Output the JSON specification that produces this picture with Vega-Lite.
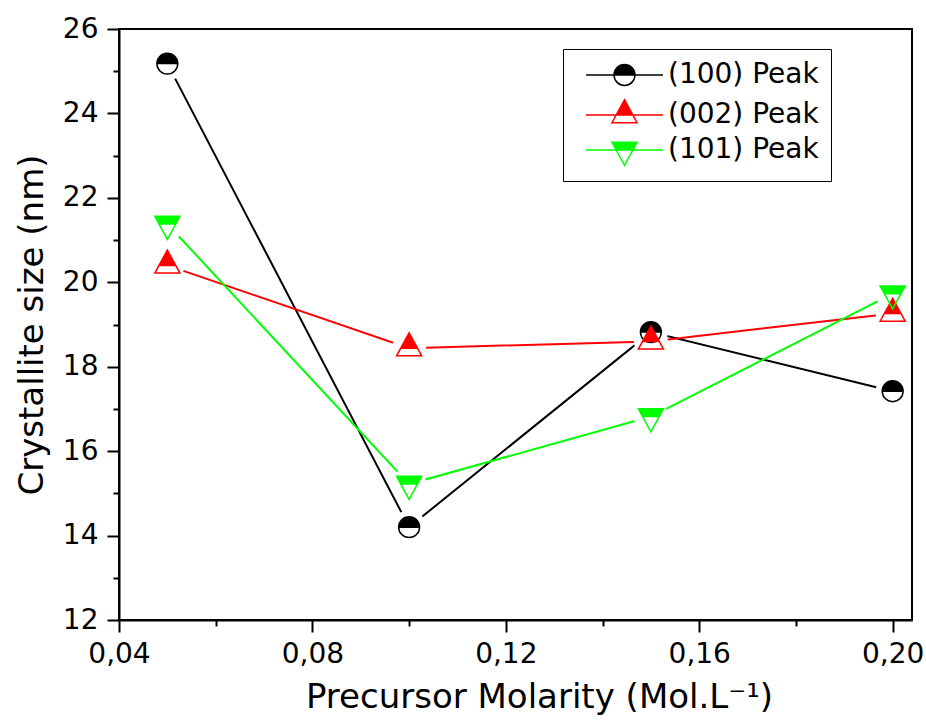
{
  "$schema": "https://vega.github.io/schema/vega-lite/v6.json",
  "width": 793,
  "height": 591,
  "autosize": {"type": "none"},
  "padding": {"left": 119, "top": 29, "right": 14, "bottom": 103},
  "background": "white",
  "config": {
    "view": {"stroke": "black", "strokeWidth": 2},
    "font": "DejaVu Sans"
  },
  "data": {
    "values": [
      {"series": "(100) Peak", "x": 0.05, "y": 25.18},
      {"series": "(100) Peak", "x": 0.10, "y": 14.2},
      {"series": "(100) Peak", "x": 0.15, "y": 18.82},
      {"series": "(100) Peak", "x": 0.20, "y": 17.42},
      {"series": "(002) Peak", "x": 0.05, "y": 20.4},
      {"series": "(002) Peak", "x": 0.10, "y": 18.44},
      {"series": "(002) Peak", "x": 0.15, "y": 18.6},
      {"series": "(002) Peak", "x": 0.20, "y": 19.26},
      {"series": "(101) Peak", "x": 0.05, "y": 21.38},
      {"series": "(101) Peak", "x": 0.10, "y": 15.22},
      {"series": "(101) Peak", "x": 0.15, "y": 16.82},
      {"series": "(101) Peak", "x": 0.20, "y": 19.73}
    ]
  },
  "encoding": {
    "x": {
      "field": "x",
      "type": "quantitative",
      "scale": {"domain": [0.04, 0.204], "nice": false, "zero": false},
      "axis": {
        "title": "Precursor Molarity (Mol.L⁻¹)",
        "titleX": 420,
        "values": [0.04, 0.06, 0.08, 0.10, 0.12, 0.14, 0.16, 0.18, 0.20],
        "labelExpr": "round(datum.value*100) % 4 == 0 ? replace(format(datum.value, '.2f'), '.', ',') : ''",
        "tickSize": {"condition": {"test": "round(datum.value*100) % 4 == 0", "value": 12}, "value": 6},
        "tickWidth": 2,
        "tickColor": "black",
        "domainColor": "black",
        "domainWidth": 2,
        "grid": false,
        "labelFont": "DejaVu Sans",
        "labelFontSize": 28,
        "labelColor": "black",
        "labelPadding": 8,
        "labelOverlap": false,
        "labelFlush": false,
        "labelBound": false,
        "titleFont": "DejaVu Sans",
        "titleFontSize": 34,
        "titleFontWeight": "normal",
        "titleColor": "black",
        "titlePadding": 12
      }
    },
    "y": {
      "field": "y",
      "type": "quantitative",
      "scale": {"domain": [12, 26], "nice": false, "zero": false},
      "axis": {
        "title": "Crystallite size (nm)",
        "values": [12, 13, 14, 15, 16, 17, 18, 19, 20, 21, 22, 23, 24, 25, 26],
        "labelExpr": "datum.value % 2 == 0 ? datum.label : ''",
        "tickSize": {"condition": {"test": "datum.value % 2 == 0", "value": 12}, "value": 6},
        "tickWidth": 2,
        "tickColor": "black",
        "domainColor": "black",
        "domainWidth": 2,
        "grid": false,
        "labelFont": "DejaVu Sans",
        "labelFontSize": 28,
        "labelColor": "black",
        "labelPadding": 9,
        "labelOverlap": false,
        "labelFlush": false,
        "labelBound": false,
        "titleFont": "DejaVu Sans",
        "titleFontSize": 34,
        "titleFontWeight": "normal",
        "titleColor": "black",
        "titlePadding": 13
      }
    }
  },
  "layer": [
    {
      "mark": {"type": "line", "strokeWidth": 2},
      "encoding": {
        "stroke": {
          "field": "series",
          "type": "nominal",
          "scale": {"domain": ["(100) Peak", "(002) Peak", "(101) Peak"], "range": ["black", "#ff0000", "#00ff00"]}
        }
      }
    },
    {
      "mark": {"type": "point", "filled": true, "size": 0, "strokeWidth": 1.5, "opacity": 1},
      "encoding": {
        "fill": {
          "field": "series",
          "type": "nominal",
          "scale": {"domain": ["(100) Peak", "(002) Peak", "(101) Peak"], "range": ["black", "#ff0000", "#00ff00"]}
        },
        "stroke": {
          "field": "series",
          "type": "nominal",
          "scale": {"domain": ["(100) Peak", "(002) Peak", "(101) Peak"], "range": ["black", "#ff0000", "#00ff00"]}
        },
        "shape": {
          "field": "series",
          "type": "nominal",
          "scale": {
            "domain": ["(100) Peak", "(002) Peak", "(101) Peak"],
            "range": [
              "M -0.95 0 A 0.95 0.95 0 1 1 0.95 0 A 0.95 0.95 0 1 1 -0.95 0 Z M -0.95 0 A 0.95 0.95 0 0 0 0.95 0 L -0.95 0 Z M -3.5 0 L 3.5 0",
              "M 0 -1.39 L 1.14 0.7 L -1.14 0.7 Z M -0.76 0 L -1.14 0.7 L 1.14 0.7 L 0.76 0 Z M -3.5 0 L 3.5 0",
              "M -1.14 -0.7 L 1.14 -0.7 L 0 1.39 Z M -0.76 0 L 0 1.39 L 0.76 0 Z M -3.5 0 L 3.5 0"
            ]
          },
          "legend": {
            "orient": "none", "legendX": 444, "legendY": 20, "title": null,
            "symbolSize": 484, "symbolStrokeWidth": 1.5, "symbolOpacity": 1, "symbolOffset": 35.5,
            "labelOffset": 29.5, "labelFontSize": 28, "labelFont": "DejaVu Sans", "labelColor": "black",
            "padding": 12, "rowPadding": 7, "fillColor": "white", "strokeColor": "black",
            "encode": {
              "symbols": {
                "strokeWidth": {"value": 1.5},
                "fillOpacity": {"value": 1},
                "strokeOpacity": {"value": 1}
              },
              "legend": {
                "strokeWidth": {"value": 1.5}
              }
            }
          }
        }
      }
    },
    {
      "mark": {"type": "point", "shape": "circle", "filled": true, "fill": "white", "strokeWidth": 0, "size": 1156, "opacity": 1},
      "encoding": {}
    },
    {
      "transform": [{"filter": "datum.series === '(100) Peak'"}],
      "mark": {"type": "point", "filled": true, "size": 484, "strokeWidth": 1.5, "opacity": 1, "fill": "black", "stroke": "black",
        "shape": "M -0.95 0 A 0.95 0.95 0 1 1 0.95 0 A 0.95 0.95 0 1 1 -0.95 0 Z M -0.95 0 A 0.95 0.95 0 0 0 0.95 0 L -0.95 0 Z"},
      "encoding": {}
    },
    {
      "transform": [{"filter": "datum.series === '(002) Peak'"}],
      "mark": {"type": "point", "filled": true, "size": 484, "strokeWidth": 1.5, "opacity": 1, "fill": "#ff0000", "stroke": "#ff0000",
        "shape": "M 0 -1.39 L 1.14 0.7 L -1.14 0.7 Z M -0.76 0 L -1.14 0.7 L 1.14 0.7 L 0.76 0 Z"},
      "encoding": {}
    },
    {
      "transform": [{"filter": "datum.series === '(101) Peak'"}],
      "mark": {"type": "point", "filled": true, "size": 484, "strokeWidth": 1.5, "opacity": 1, "fill": "#00ff00", "stroke": "#00ff00",
        "shape": "M -1.14 -0.7 L 1.14 -0.7 L 0 1.39 Z M -0.76 0 L 0 1.39 L 0.76 0 Z"},
      "encoding": {}
    }
  ]
}
